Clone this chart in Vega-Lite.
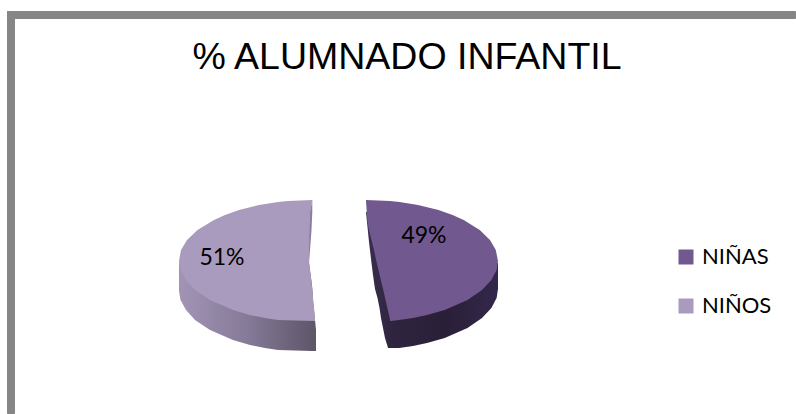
{
"$schema":"https://vega.github.io/schema/vega-lite/v6.json",
"width":796,"height":414,"padding":0,"autosize":{"type":"none"},
"background":"white",
"config":{"view":{"stroke":null}},
"title":{"text":"% ALUMNADO INFANTIL","font":"Liberation Sans","fontSize":37.5,"fontWeight":"normal","color":"#000000","anchor":"middle","frame":"group","offset":0,"dx":9,"dy":106,"baseline":"alphabetic"},
"datasets":{
"frame":[{"x":7,"x2":796,"y":11,"y2":19},{"x":7,"x2":15,"y":11,"y2":414}],
"sideLeft":[{"y":263,"a":179,"b":309},{"y":285,"a":179,"b":312},{"y":291,"a":179,"b":312.5},{"y":300,"a":180.5,"b":313},{"y":310,"a":186,"b":314},{"y":320,"a":195,"b":315},{"y":330,"a":210,"b":316},{"y":340,"a":233,"b":316},{"y":345,"a":250,"b":316},{"y":348,"a":265,"b":316},{"y":350,"a":278,"b":316},{"y":351,"a":312,"b":316}],
"sliverLeft":[{"y":200,"a":312,"b":312.3},{"y":205,"a":311.4,"b":312.3},{"y":212,"a":309.5,"b":312.3},{"y":230,"a":309,"b":311.5},{"y":250,"a":309,"b":310},{"y":263,"a":309,"b":309}],
"sideRight":[{"y":212,"a":366,"b":400},{"y":242,"a":369,"b":400},{"y":263,"a":371.5,"b":498},{"y":275,"a":373,"b":498},{"y":289,"a":375,"b":498},{"y":298,"a":377.5,"b":496.6},{"y":308,"a":379.5,"b":491.4},{"y":318,"a":381,"b":482},{"y":328,"a":383,"b":467.5},{"y":338,"a":385,"b":444.7},{"y":343,"a":386.5,"b":427},{"y":346,"a":387.5,"b":413},{"y":348,"a":388,"b":399}],
"tops":[
{"slice":"NIÑOS","y":200,"a":312,"b":312},{"slice":"NIÑOS","y":201,"a":288,"b":312},{"slice":"NIÑOS","y":202,"a":278,"b":312},{"slice":"NIÑOS","y":205,"a":259,"b":311.5},{"slice":"NIÑOS","y":210,"a":239,"b":310.5},{"slice":"NIÑOS","y":215,"a":225,"b":310},{"slice":"NIÑOS","y":220,"a":214,"b":309.8},{"slice":"NIÑOS","y":230,"a":197.5,"b":309.5},{"slice":"NIÑOS","y":240,"a":187,"b":309.2},{"slice":"NIÑOS","y":250,"a":181,"b":309},{"slice":"NIÑOS","y":261,"a":179,"b":309},{"slice":"NIÑOS","y":270,"a":180.5,"b":310},{"slice":"NIÑOS","y":280,"a":186,"b":311.3},{"slice":"NIÑOS","y":290,"a":195,"b":312.4},{"slice":"NIÑOS","y":300,"a":210,"b":313.2},{"slice":"NIÑOS","y":310,"a":233,"b":314.2},{"slice":"NIÑOS","y":315,"a":250,"b":314.6},{"slice":"NIÑOS","y":318,"a":265,"b":315},{"slice":"NIÑOS","y":320,"a":278,"b":315},{"slice":"NIÑOS","y":321,"a":314,"b":315},
{"slice":"NIÑAS","y":200,"a":366,"b":366},{"slice":"NIÑAS","y":201,"a":366,"b":390},{"slice":"NIÑAS","y":202,"a":366,"b":399.5},{"slice":"NIÑAS","y":205,"a":366.3,"b":418},{"slice":"NIÑAS","y":210,"a":366.6,"b":438.5},{"slice":"NIÑAS","y":215,"a":367,"b":452.6},{"slice":"NIÑAS","y":220,"a":367.3,"b":463.7},{"slice":"NIÑAS","y":230,"a":368.8,"b":479.7},{"slice":"NIÑAS","y":240,"a":371.5,"b":490},{"slice":"NIÑAS","y":250,"a":374,"b":495.8},{"slice":"NIÑAS","y":261,"a":376.3,"b":498},{"slice":"NIÑAS","y":270,"a":378.5,"b":496.6},{"slice":"NIÑAS","y":280,"a":380.8,"b":491.4},{"slice":"NIÑAS","y":290,"a":383.3,"b":482},{"slice":"NIÑAS","y":300,"a":385.5,"b":467.5},{"slice":"NIÑAS","y":310,"a":387.8,"b":444.7},{"slice":"NIÑAS","y":315,"a":389,"b":427},{"slice":"NIÑAS","y":318,"a":389.6,"b":413},{"slice":"NIÑAS","y":320,"a":390,"b":399},{"slice":"NIÑAS","y":321,"a":390,"b":391}
],
"labels":[{"x":222,"y":258,"label":"51%"},{"x":424,"y":236,"label":"49%"}]
},
"layer":[
{"data":{"name":"frame"},"mark":{"type":"rect","color":"#868686","cornerRadius":1},
"encoding":{
"x":{"field":"x","type":"quantitative","axis":null,"scale":{"domain":[0,796],"nice":false,"zero":false}},
"x2":{"field":"x2"},
"y":{"field":"y","type":"quantitative","axis":null,"scale":{"domain":[0,414],"reverse":true,"nice":false,"zero":false}},
"y2":{"field":"y2"}}},
{"data":{"name":"sideLeft"},"mark":{"type":"area","orient":"horizontal","fill":{"x1":0,"y1":0,"x2":1,"y2":0,"gradient":"linear","stops":[{"offset":0,"color":"#a294b6"},{"offset":0.5,"color":"#857a97"},{"offset":1,"color":"#5d5568"}]}},
"encoding":{"x":{"field":"a","type":"quantitative"},"x2":{"field":"b"},"y":{"field":"y","type":"quantitative"}}},
{"data":{"name":"sliverLeft"},"mark":{"type":"area","orient":"horizontal","fill":"#8c7da3"},
"encoding":{"x":{"field":"a","type":"quantitative"},"x2":{"field":"b"},"y":{"field":"y","type":"quantitative"}}},
{"data":{"name":"sideRight"},"mark":{"type":"area","orient":"horizontal","fill":{"x1":0,"y1":0,"x2":1,"y2":0,"gradient":"linear","stops":[{"offset":0,"color":"#3a2e4d"},{"offset":0.2,"color":"#2f2540"},{"offset":0.6,"color":"#291f37"},{"offset":1,"color":"#33284a"}]}},
"encoding":{"x":{"field":"a","type":"quantitative"},"x2":{"field":"b"},"y":{"field":"y","type":"quantitative"}}},
{"data":{"name":"tops"},"mark":{"type":"area","orient":"horizontal"},
"encoding":{"x":{"field":"a","type":"quantitative"},"x2":{"field":"b"},"y":{"field":"y","type":"quantitative"},
"color":{"field":"slice","type":"nominal","scale":{"domain":["NIÑAS","NIÑOS"],"range":["#71588F","#A99BBD"]},
"legend":{"orient":"none","legendX":675,"legendY":246,"title":null,"symbolType":"square","symbolSize":225,"symbolStrokeWidth":0,"symbolOpacity":1,"labelFont":"Lato","labelFontSize":22,"labelColor":"#000000","labelOffset":5,"rowPadding":27,"padding":0,"labelLimit":120}}}},
{"data":{"name":"labels"},"mark":{"type":"text","font":"Lato","fontSize":23,"color":"#000000","align":"center","baseline":"middle"},
"encoding":{"x":{"field":"x","type":"quantitative"},"y":{"field":"y","type":"quantitative"},"text":{"field":"label"}}}
]
}
